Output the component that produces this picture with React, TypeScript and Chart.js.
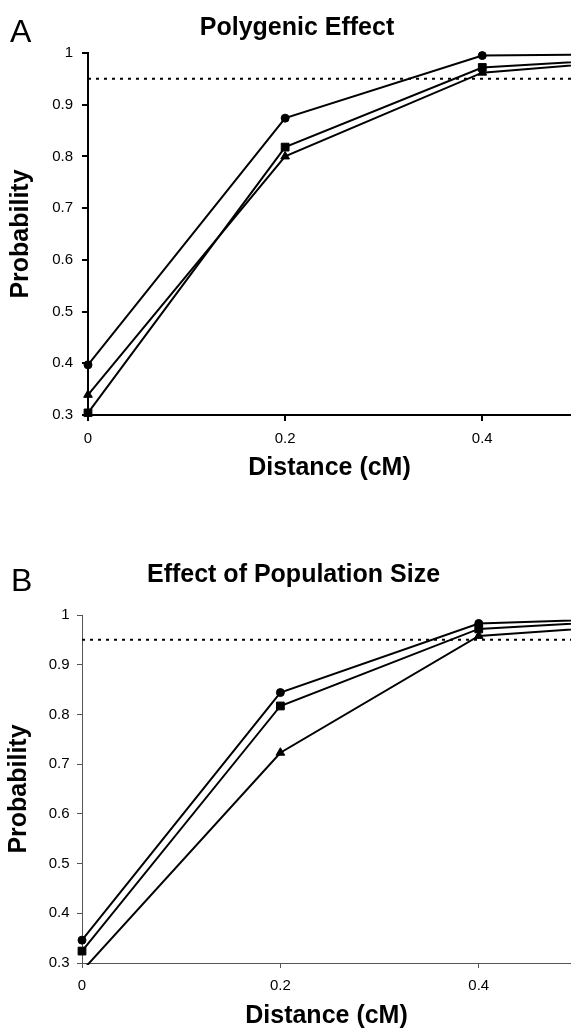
import React, { useEffect, useRef } from 'react';
import { Chart, registerables } from 'chart.js';

Chart.register(...registerables);

// ---- data ----
const distances = [0, 0.2, 0.4, 0.6];
const xTickValues = [0, 0.2, 0.4];
const yTickValues = [0.3, 0.4, 0.5, 0.6, 0.7, 0.8, 0.9, 1];
const thresholdValue = 0.95;

const polyCircle = [0.397, 0.874, 0.995, 0.999];
const polySquare = [0.304, 0.818, 0.972, 0.995];
const polyTriangle = [0.339, 0.8, 0.962, 0.993];

const popCircle = [0.346, 0.844, 0.983, 0.996];
const popSquare = [0.324, 0.817, 0.972, 0.994];
const popTriangle = [0.284, 0.723, 0.958, 0.986];

const FONT = '"Liberation Sans", Arial, Helvetica, sans-serif';

const panelTextPlugin = {
  id: 'panelText',
  afterDraw(chart: any, _args: any, opts: any) {
    const ctx = chart.ctx;
    ctx.save();
    ctx.fillStyle = '#000';
    ctx.textBaseline = 'alphabetic';
    ctx.textAlign = 'left';
    ctx.font = `400 ${opts.letterSize}px ${FONT}`;
    ctx.fillText(opts.letter, opts.letterX, opts.letterY);
    ctx.textAlign = 'center';
    ctx.font = `700 25px ${FONT}`;
    ctx.fillText(opts.title, opts.titleX, opts.titleY);
    ctx.restore();
  },
};

const fmt = (v: number) => String(Math.round(v * 10) / 10);

function makeSeries(values: number[], style: string, radius: number) {
  return {
    data: distances.map((x, i) => ({ x, y: values[i] })),
    borderColor: '#000',
    backgroundColor: '#000',
    borderWidth: 2,
    pointStyle: style,
    pointRadius: radius,
    pointBorderWidth: 1,
    pointBorderColor: '#000',
    pointBackgroundColor: '#000',
    tension: 0,
    clip: { left: 8, top: 8, right: 0, bottom: 2 },
  };
}

interface PanelProps {
  letter: string;
  title: string;
  circle: number[];
  square: number[];
  triangle: number[];
  height: number;
  padTop: number;
  yWidth: number;
  xMax: number;
  axisColor: string;
  axisWidth: number;
  tickLen: number;
  yPad: number;
  yTitlePad: number;
  letterY: number;
  titleX: number;
  titleY: number;
  letterX: number;
  dotWidth: number;
}

function Panel(p: PanelProps) {
  const ref = useRef<HTMLCanvasElement>(null);
  useEffect(() => {
    if (!ref.current) return;
    const gridOpts = {
      drawOnChartArea: false,
      drawTicks: true,
      tickLength: p.tickLen,
      color: p.axisColor,
      lineWidth: p.axisWidth,
    };
    const chart = new Chart(ref.current, {
      type: 'line',
      data: {
        datasets: [
          {
            data: [
              { x: 0, y: thresholdValue },
              { x: 0.6, y: thresholdValue },
            ],
            borderColor: '#000',
            borderWidth: p.dotWidth,
            borderDash: [3, 5],
            pointRadius: 0,
            clip: { left: 0, top: 8, right: 0, bottom: 2 },
          } as any,
          makeSeries(p.circle, 'circle', 4),
          makeSeries(p.square, 'rect', 5.5),
          makeSeries(p.triangle, 'triangle', 5),
        ],
      },
      options: {
        responsive: false,
        animation: false,
        layout: {
          autoPadding: false,
          padding: { top: p.padTop, left: 0, right: 0, bottom: 0 },
        },
        plugins: {
          legend: { display: false },
          tooltip: { enabled: false },
          panelText: {
            letter: p.letter,
            letterX: p.letterX,
            letterY: p.letterY,
            letterSize: 32,
            title: p.title,
            titleX: p.titleX,
            titleY: p.titleY,
          },
        } as any,
        scales: {
          x: {
            type: 'linear',
            min: 0,
            max: p.xMax,
            afterBuildTicks: (s: any) => {
              s.ticks = xTickValues.map((v) => ({ value: v }));
            },
            afterFit: (s: any) => {
              s.height = 66;
              s.paddingRight = 0;
              s.paddingLeft = 0;
            },
            ticks: {
              callback: (v: any) => fmt(Number(v)),
              color: '#000',
              font: { family: FONT, size: 15 },
              padding: 9,
              maxRotation: 0,
            },
            grid: gridOpts,
            border: { display: true, color: p.axisColor, width: p.axisWidth },
            title: {
              display: true,
              text: 'Distance (cM)',
              color: '#000',
              font: { family: FONT, size: 25, weight: 'bold', lineHeight: 1 },
              padding: { top: 0, bottom: 0 },
            },
          },
          y: {
            type: 'linear',
            min: 0.3,
            max: 1,
            afterBuildTicks: (s: any) => {
              s.ticks = yTickValues.map((v) => ({ value: v }));
            },
            afterFit: (s: any) => {
              s.width = p.yWidth;
            },
            ticks: {
              callback: (v: any) => fmt(Number(v)),
              color: '#000',
              font: { family: FONT, size: 15 },
              padding: p.yPad,
            },
            grid: gridOpts,
            border: { display: true, color: p.axisColor, width: p.axisWidth },
            title: {
              display: true,
              text: 'Probability',
              color: '#000',
              font: { family: FONT, size: 25, weight: 'bold', lineHeight: 1 },
              padding: { top: p.yTitlePad, bottom: 0 },
            },
          },
        } as any,
      },
      plugins: [panelTextPlugin as any],
    });
    return () => chart.destroy();
  }, []);
  return (
    <canvas
      ref={ref}
      width={571}
      height={p.height}
      style={{ display: 'block', width: 571, height: p.height }}
    />
  );
}

export default function App() {
  return (
    <div
      style={{
        position: 'absolute',
        left: 0,
        top: 0,
        width: 571,
        height: 1029,
        overflow: 'hidden',
        background: '#fff',
      }}
    >
      <div style={{ position: 'absolute', left: 0, top: 0 }}>
        <Panel
          letter="A"
          title="Polygenic Effect"
          circle={polyCircle}
          square={polySquare}
          triangle={polyTriangle}
          height={481}
          padTop={53}
          yWidth={88}
          xMax={0.49}
          axisColor="#000"
          axisWidth={2}
          tickLen={6}
          yPad={9}
          yTitlePad={8.5}
          letterX={10}
          letterY={42}
          titleX={297}
          titleY={35}
          dotWidth={2}
        />
      </div>
      <div style={{ position: 'absolute', left: 0, top: 540 }}>
        <Panel
          letter="B"
          title="Effect of Population Size"
          circle={popCircle}
          square={popSquare}
          triangle={popTriangle}
          height={489}
          padTop={75}
          yWidth={82}
          xMax={0.493}
          axisColor="#555"
          axisWidth={1}
          tickLen={5}
          yPad={7.5}
          yTitlePad={7}
          letterX={11}
          letterY={51}
          titleX={293.5}
          titleY={42}
          dotWidth={2}
        />
      </div>
    </div>
  );
}
